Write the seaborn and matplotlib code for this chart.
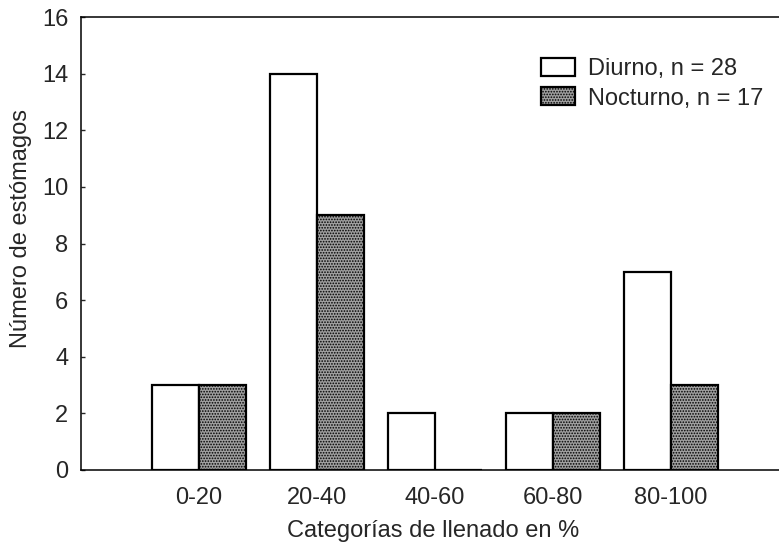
import matplotlib
matplotlib.use("Agg")
import matplotlib.pyplot as plt
import seaborn as sns
import pandas as pd
from matplotlib.patches import Patch

categories = ["0-20", "20-40", "40-60", "60-80", "80-100"]
diurno = [3, 14, 2, 2, 7]
nocturno = [3, 9, 0, 2, 3]
series_labels = ["Diurno, n = 28", "Nocturno, n = 17"]

sns.set_theme(style="white")
plt.rcParams['font.family'] = ['Liberation Sans', 'DejaVu Sans']
plt.rcParams['hatch.linewidth'] = 0.8

FS = 17
W, H = 779, 546
L, R, T, B = 81, 789, 17, 470

df = pd.DataFrame({
    "cat": categories * 2,
    "val": diurno + nocturno,
    "serie": [series_labels[0]] * 5 + [series_labels[1]] * 5,
})

fig = plt.figure(figsize=(W/100, H/100), dpi=100)
ax = fig.add_axes([L/W, 1-B/H, (R-L)/W, (B-T)/H])

sns.barplot(data=df, x="cat", y="val", hue="serie", order=categories,
            hue_order=series_labels, palette=["white", "#a0a0a0"],
            width=0.8, edgecolor="black", linewidth=1.6, ax=ax, legend=False)

GREY = "#a0a0a0"
for c in ax.containers[1]:
    c.set_hatch("......")
    c.set_facecolor(GREY)

ax.set_xlim(-1, 5)
ax.set_ylim(0, 16)
ax.set_yticks(range(0, 17, 2))
ax.set_xlabel("Categorías de llenado en %", fontsize=FS)
ax.set_ylabel("Número de estómagos", fontsize=FS)
ax.xaxis.set_label_coords((433-L)/(R-L), (B-531)/(B-T))
ax.xaxis.label.set_va("center")
ax.yaxis.set_label_coords((21-L)/(R-L), (B-229)/(B-T))
ax.yaxis.label.set_va("center")
ax.tick_params(axis="y", direction="in", length=3, width=1, labelsize=FS, left=True, pad=9)
ax.tick_params(axis="x", length=0, labelsize=FS, pad=12)
for s in ["left", "top", "bottom"]:
    ax.spines[s].set_color("black")
    ax.spines[s].set_linewidth(1.1)
ax.spines["right"].set_visible(False)

handles = [Patch(facecolor="white", edgecolor="black", linewidth=1.6),
           Patch(facecolor=GREY, edgecolor="black", linewidth=1.6, hatch="......")]
ax.legend(handles, series_labels, loc="upper left",
          bbox_to_anchor=((541-L)/(R-L), 1-(58-T)/(B-T)),
          frameon=False, fontsize=FS, handlelength=1.45, handleheight=0.8,
          handletextpad=0.55, labelspacing=0.3, borderaxespad=0, borderpad=0)

fig.savefig("out.png", dpi=100)
